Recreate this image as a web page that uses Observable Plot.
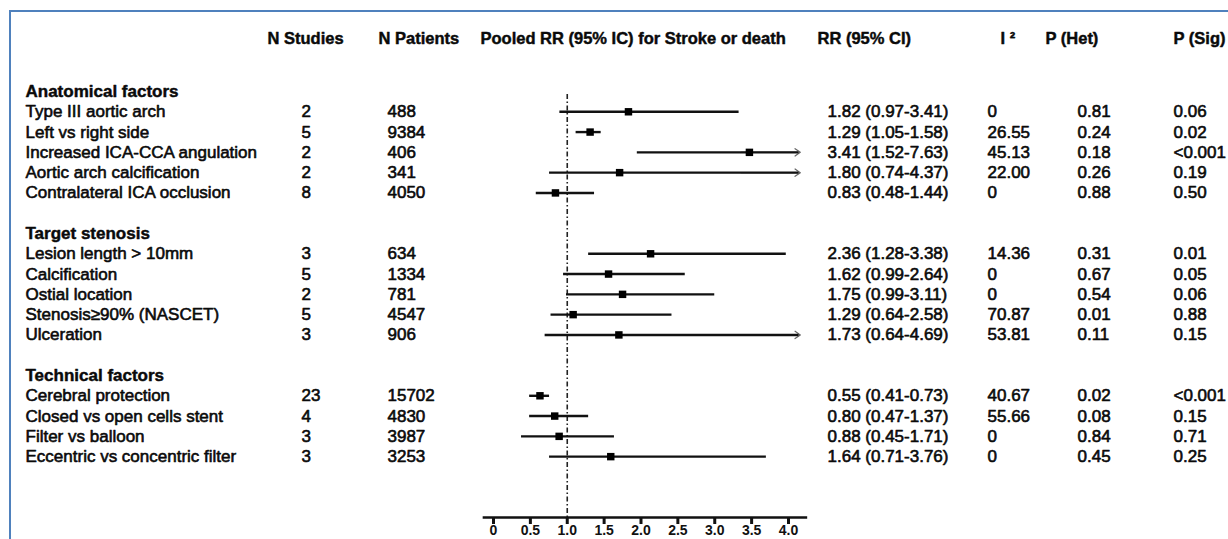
<!DOCTYPE html>
<html><head><meta charset="utf-8">
<script src="https://cdn.jsdelivr.net/npm/d3@7"></script>
<script src="https://cdn.jsdelivr.net/npm/@observablehq/plot@0.6"></script>
<style>
html,body{margin:0;padding:0;background:#fff;}
#wrap{position:relative;width:1228px;height:539px;overflow:hidden;}
#wrap svg{display:block;}
#border{position:absolute;left:9px;top:10px;width:1240px;height:560px;border-left:2px solid #4f81bd;border-top:2px solid #4f81bd;pointer-events:none;}
</style></head><body>
<div id="wrap"><div id="border"></div></div>
<script>
// ---- data ----
const sections = ["Anatomical factors", "Target stenosis", "Technical factors"];
const sectionRow = [0, 7, 14];
const factors = [
  "Type III aortic arch", "Left vs right side", "Increased ICA-CCA angulation",
  "Aortic arch calcification", "Contralateral ICA occlusion",
  "Lesion length > 10mm", "Calcification", "Ostial location",
  "Stenosis\u226590% (NASCET)", "Ulceration",
  "Cerebral protection", "Closed vs open cells stent", "Filter vs balloon",
  "Eccentric vs concentric filter"
];
const factorRow = [1, 2, 3, 4, 5, 8, 9, 10, 11, 12, 15, 16, 17, 18];
const nStudies = ["2", "5", "2", "2", "8", "3", "5", "2", "5", "3", "23", "4", "3", "3"];
const nPatients = ["488", "9384", "406", "341", "4050", "634", "1334", "781", "4547", "906", "15702", "4830", "3987", "3253"];
const rrText = [
  "1.82 (0.97-3.41)", "1.29 (1.05-1.58)", "3.41 (1.52-7.63)", "1.80 (0.74-4.37)", "0.83 (0.48-1.44)",
  "2.36 (1.28-3.38)", "1.62 (0.99-2.64)", "1.75 (0.99-3.11)", "1.29 (0.64-2.58)", "1.73 (0.64-4.69)",
  "0.55 (0.41-0.73)", "0.80 (0.47-1.37)", "0.88 (0.45-1.71)", "1.64 (0.71-3.76)"
];
const i2Text = ["0", "26.55", "45.13", "22.00", "0", "14.36", "0", "0", "70.87", "53.81", "40.67", "55.66", "0", "0"];
const pHet = ["0.81", "0.24", "0.18", "0.26", "0.88", "0.31", "0.67", "0.54", "0.01", "0.11", "0.02", "0.08", "0.84", "0.45"];
const pSig = ["0.06", "0.02", "<0.001", "0.19", "0.50", "0.01", "0.05", "0.06", "0.88", "0.15", "<0.001", "0.15", "0.71", "0.25"];
// plotted pooled RR and CI (as drawn)
const est = [1.83, 1.31, 3.47, 1.71, 0.84, 2.13, 1.56, 1.75, 1.08, 1.70, 0.63, 0.83, 0.89, 1.59];
const lo  = [0.90, 1.12, 1.95, 0.76, 0.58, 1.29, 0.95, 0.99, 0.78, 0.70, 0.49, 0.49, 0.38, 0.76];
const hi  = [3.33, 1.46, 7.63, 4.37, 1.37, 3.97, 2.60, 3.00, 2.42, 4.69, 0.76, 1.29, 1.64, 3.70];
const headers = ["N Studies", "N Patients", "Pooled RR (95% IC) for Stroke or death", "RR (95% CI)", "I \u00b2", "P (Het)", "P (Sig)"];
const xTicks = [0, 0.5, 1.0, 1.5, 2.0, 2.5, 3.0, 3.5, 4.0];

// ---- layout ----
const headerX = [267, 378, 480, 817, 1000, 1045, 1173];
const headerRow = -2.62;
const axisRow = 21;
const clipMax = 4.16;
const font = "'Liberation Sans', Arial, Helvetica, sans-serif";

const rows = factors.map((f, i) => ({
  label: f, row: factorRow[i], ns: nStudies[i], np: nPatients[i], rr: rrText[i],
  i2: i2Text[i], ph: pHet[i], ps: pSig[i], est: est[i], lo: lo[i], hi: hi[i],
  hiShown: Math.min(hi[i], clipMax), clipped: hi[i] > clipMax
}));
const secs = sections.map((s, i) => ({label: s, row: sectionRow[i]}));
const hdrs = headers.map((h, i) => ({label: h, x: headerX[i]}));

const bodyText = {fontSize: 17, fill: "#0a0a0a", stroke: "#0a0a0a", strokeWidth: 0.6, frameAnchor: "left", textAnchor: "start"};
function col(field, px) {
  return Plot.text(rows, {...bodyText, y: "row", text: field, dx: px});
}

const marks = [
  // headers
  ...hdrs.map(h => Plot.text([h], {y: () => headerRow, text: "label", frameAnchor: "left", textAnchor: "start", dx: h.x, fontSize: 16.5, fontWeight: "bold", fill: "#0a0a0a", stroke: "#0a0a0a", strokeWidth: 0.45})),
  // section titles
  Plot.text(secs, {y: "row", text: "label", frameAnchor: "left", textAnchor: "start", dx: 25, fontSize: 17, fontWeight: "bold", fill: "#0a0a0a", stroke: "#0a0a0a", strokeWidth: 0.45}),
  col("label", 25), col("ns", 301), col("np", 387), col("rr", 827), col("i2", 987), col("ph", 1077), col("ps", 1173),
  // reference line
  Plot.ruleX([1], {y1: 0.15, y2: axisRow, stroke: "#222", strokeWidth: 1.6, strokeDasharray: "5,2.5,1.5,2.5"}),
  // open arrowheads for CIs running past the axis (drawn under the CI line)
  Plot.arrow(rows.filter(d => d.clipped), {x1: d => clipMax - 0.8, x2: "hiShown", y1: "row", y2: "row", stroke: "#666", strokeWidth: 1.2, headLength: 8, headAngle: 70}),
  // CI lines
  Plot.ruleY(rows, {y: "row", x1: "lo", x2: d => d.clipped ? d.hiShown - 0.02 : d.hiShown, stroke: "#111", strokeWidth: 2.4}),
  // point estimates
  Plot.dot(rows, {x: "est", y: "row", symbol: "square", r: 4.2, fill: "#000"}),
  // axis
  Plot.ruleY([axisRow], {x1: -0.14, x2: 4.26, stroke: "#111", strokeWidth: 2.4}),
  Plot.axisX(xTicks, {anchor: "bottom", tickSize: 7, tickPadding: 1, strokeWidth: 3, stroke: "#111",
    tickFormat: d => d === 0 ? "0" : d.toFixed(1), fontSize: 14, fontWeight: "bold", fill: "#111"})
];

const chart = Plot.plot({
  width: 1228, height: 539,
  marginTop: 91, marginBottom: 22, marginLeft: 0, marginRight: 0,
  x: {domain: [0, 4], range: [493, 788]},
  y: {domain: [0, axisRow], reverse: true, axis: null},
  style: {fontFamily: font, background: "#fff", color: "#111", overflow: "visible"},
  marks
});
document.getElementById("wrap").insertBefore(chart, document.getElementById("border"));
</script>
</body></html>
